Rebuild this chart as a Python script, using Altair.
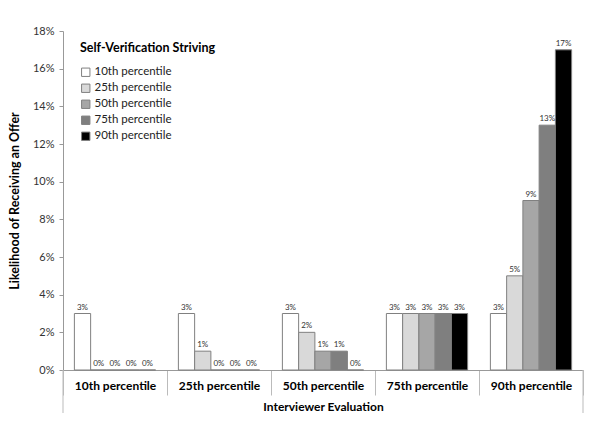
import altair as alt
import pandas as pd

groups = ["10th percentile", "25th percentile", "50th percentile", "75th percentile", "90th percentile"]
series = ["10th percentile", "25th percentile", "50th percentile", "75th percentile", "90th percentile"]
colors = ["#ffffff", "#d9d9d9", "#a6a6a6", "#7f7f7f", "#000000"]
values = {
    "10th percentile": [0.03, 0.00, 0.00, 0.00, 0.00],
    "25th percentile": [0.03, 0.01, 0.00, 0.00, 0.00],
    "50th percentile": [0.03, 0.02, 0.01, 0.01, 0.00],
    "75th percentile": [0.03, 0.03, 0.03, 0.03, 0.03],
    "90th percentile": [0.03, 0.05, 0.09, 0.13, 0.17],
}
y_ticks = [0.0, 0.02, 0.04, 0.06, 0.08, 0.10, 0.12, 0.14, 0.16, 0.18]

rows = []
for g in groups:
    for s, v in zip(series, values[g]):
        rows.append({"group": g, "series": s, "value": v})
df = pd.DataFrame(rows)

W, H = 520, 339
FONT = "Lato"

x = alt.X("group:N", sort=groups, title="Interviewer Evaluation",
          scale=alt.Scale(paddingInner=0, paddingOuter=0),
          axis=alt.Axis(labelAngle=0, labelFontWeight="bold", labelFontSize=12,
                        labelColor="#000", labelPadding=-15, tickBand="extent",
                        tickSize=25, tickColor="#bbbbbb", domainColor="#999999",
                        titleFontSize=12, titleFontWeight="bold", titlePadding=6,
                        titleColor="#000"))
xo = alt.XOffset("series:N", sort=series,
                 scale=alt.Scale(paddingInner=0, paddingOuter=0.7))
y = alt.Y("value:Q", title="Likelihood of Receiving an Offer",
          scale=alt.Scale(domain=[0, 0.18], nice=False),
          axis=alt.Axis(format=".0%", values=y_ticks, tickCount=10,
                        labelOverlap=False, labelFlush=False,
                        grid=False, tickSize=4, tickColor="#999999", domainColor="#999999",
                        labelFontSize=11, labelColor="#333", labelPadding=5,
                        titleFontSize=12.5, titleFontWeight="bold", titleColor="#000",
                        titlePadding=11))

bars = alt.Chart(df).mark_bar(stroke="#808080", strokeWidth=1).encode(
    x=x, xOffset=xo, y=y,
    fill=alt.Fill("series:N", sort=series,
                  scale=alt.Scale(domain=series, range=colors),
                  legend=alt.Legend(title="Self-Verification Striving", orient="none",
                                    legendX=17, legendY=11, titleFontSize=12.5,
                                    titleFontWeight="bold", titleColor="#000",
                                    titlePadding=12, labelFontSize=11.5, labelColor="#222",
                                    symbolType="square", symbolSize=70,
                                    symbolStrokeColor="#808080", symbolStrokeWidth=1,
                                    rowPadding=3, labelOffset=3)),
)

labels = alt.Chart(df).mark_text(fontSize=8, dy=-6, color="#333333", font=FONT).encode(
    x=x, xOffset=xo, y=y,
    text=alt.Text("value:Q", format=".0%"),
)

left_edge = alt.Chart(pd.DataFrame({"group": [groups[0]]})).mark_rule(
    color="#bbbbbb", clip=False).encode(
    x=alt.X("group:N", sort=groups, bandPosition=0),
    y=alt.value(H), y2=alt.value(H + 43),
)
right_edge = alt.Chart(pd.DataFrame({"group": [groups[-1]]})).mark_rule(
    color="#bbbbbb", clip=False).encode(
    x=alt.X("group:N", sort=groups, bandPosition=1),
    y=alt.value(H), y2=alt.value(H + 43),
)

chart = alt.layer(bars, labels, left_edge, right_edge).properties(
    width=W, height=H, padding={"left": 0, "top": 17, "right": 5, "bottom": 5}
).configure(font=FONT).configure_view(stroke=None)

chart.save("out.html", embed_options={"renderer": "svg", "actions": False})
